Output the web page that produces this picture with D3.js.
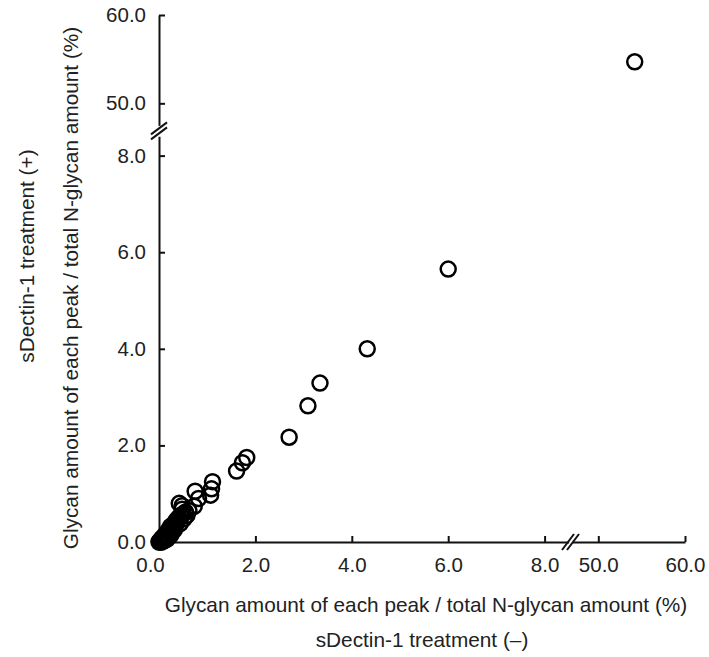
<!DOCTYPE html>
<html>
<head>
<meta charset="utf-8">
<script src="https://cdn.jsdelivr.net/npm/d3@7"></script>
<style>
  body { margin: 0; background: #fff; }
  svg text { font-family: "Liberation Sans", Arial, sans-serif; fill: #222; }
</style>
</head>
<body>
<div class="chart"></div>
<script>
// data: sDectin-1 (-) vs sDectin-1 (+), % of total N-glycan
const untreated = [54.2, 6.0, 4.32, 3.34, 3.09, 2.70, 1.82, 1.73, 1.61, 1.11, 1.09, 1.07,
  0.75, 0.82, 0.73, 0.62, 0.55, 0.48, 0.45, 0.52, 0.40, 0.38, 0.44, 0.35, 0.30, 0.32,
  0.27, 0.25, 0.22, 0.20, 0.18, 0.15, 0.14, 0.12, 0.10, 0.09, 0.08, 0.06, 0.05, 0.04,
  0.03, 0.02, 0.01, 0.12, 0.08, 0.16, 0.20, 0.25, 0.42, 0.48,
  0.58, 0.50, 0.36, 0.33, 0.29, 0.24, 0.19, 0.13, 0.07, 0.03, 0.00, 0.05, 0.11, 0.17];
const treated = [54.7, 5.65, 4.0, 3.29, 2.82, 2.17, 1.75, 1.64, 1.47, 1.25, 1.10, 0.97,
  1.05, 0.90, 0.74, 0.65, 0.62, 0.68, 0.55, 0.48, 0.50, 0.42, 0.38, 0.35, 0.30, 0.25,
  0.22, 0.28, 0.18, 0.20, 0.15, 0.12, 0.17, 0.10, 0.08, 0.11, 0.06, 0.05, 0.07, 0.03,
  0.02, 0.02, 0.01, 0.05, 0.02, 0.08, 0.10, 0.15, 0.80, 0.75,
  0.55, 0.58, 0.45, 0.40, 0.36, 0.32, 0.24, 0.14, 0.04, 0.00, 0.00, 0.00, 0.03, 0.06];
const lowTicks = [0, 2, 4, 6, 8];
const highTicks = [50, 60];
const xTitle = "Glycan amount of each peak / total N-glycan amount (%)";
const xSub = "sDectin-1 treatment (–)";
const yTitle = "Glycan amount of each peak / total N-glycan amount (%)";
const ySub = "sDectin-1 treatment (+)";

const width = 709, height = 657;
const fmt = d3.format(".1f");

const svg = d3.select(".chart").append("svg")
    .attr("width", width)
    .attr("height", height);

// broken scales: low segment and high segment
const xLow = d3.scaleLinear().domain([0, 8.5]).range([159, 568.7]);
const xHigh = d3.scaleLinear().domain([47, 60]).range([572.3, 685]);
const yLow = d3.scaleLinear().domain([0, 8.4]).range([542, 136.3]);
const yHigh = d3.scaleLinear().domain([47.5, 60]).range([125.4, 15]);

const xPos = v => v > 20 ? xHigh(v) : xLow(v);
const yPos = v => v > 20 ? yHigh(v) : yLow(v);

const axisY0 = 542, axisX0 = 159;

function styleAxis(g) {
  g.select(".domain").attr("stroke", "#111").attr("stroke-width", 2);
  g.selectAll(".tick line").attr("stroke", "#111").attr("stroke-width", 2);
  g.selectAll(".tick text").style("font-size", "20.5px").attr("fill", "#222");
}

// x axis pieces
const gxLow = svg.append("g").attr("transform", `translate(0,${axisY0})`)
    .call(d3.axisBottom(xLow).tickValues(lowTicks).tickFormat(fmt).tickSizeInner(-6).tickSizeOuter(0).tickPadding(15))
    .call(styleAxis);
// the 0.0 label sits a little left of its tick
gxLow.selectAll(".tick text").filter(d => d === 0).attr("dx", -9);
svg.append("g").attr("transform", `translate(0,${axisY0})`)
    .call(d3.axisBottom(xHigh).tickValues(highTicks).tickFormat(fmt).tickSizeInner(-6).tickSizeOuter(0).tickPadding(15))
    .call(styleAxis);

// y axis pieces
svg.append("g").attr("transform", `translate(${axisX0},0)`)
    .call(d3.axisLeft(yLow).tickValues(lowTicks).tickFormat(fmt).tickSizeInner(-6).tickSizeOuter(0).tickPadding(13))
    .call(styleAxis);
svg.append("g").attr("transform", `translate(${axisX0},0)`)
    .call(d3.axisLeft(yHigh).tickValues(highTicks).tickFormat(fmt).tickSizeInner(-6).tickSizeOuter(0).tickPadding(13))
    .call(styleAxis);

// break marks
const bx = (xLow.range()[1] + xHigh.range()[0]) / 2;
const by = (yLow.range()[1] + yHigh.range()[0]) / 2;
[-2.5, 2.5].forEach(off => {
  svg.append("line")
      .attr("x1", bx + off - 6).attr("y1", axisY0 + 8)
      .attr("x2", bx + off + 6).attr("y2", axisY0 - 8)
      .attr("stroke", "#111").attr("stroke-width", 2);
  svg.append("line")
      .attr("x1", axisX0 - 8).attr("y1", by + off + 6)
      .attr("x2", axisX0 + 8).attr("y2", by + off - 6)
      .attr("stroke", "#111").attr("stroke-width", 2);
});

// points
svg.append("g").selectAll("circle")
    .data(untreated.map((d, i) => [d, treated[i]]))
    .join("circle")
    .attr("cx", d => xPos(d[0]))
    .attr("cy", d => yPos(d[1]))
    .attr("r", 7.5)
    .attr("fill", "none")
    .attr("stroke", "#000")
    .attr("stroke-width", 2.5);

// axis titles
svg.append("text")
    .attr("x", 426).attr("y", 612)
    .attr("text-anchor", "middle")
    .style("font-size", "20.8px")
    .text(xTitle);
svg.append("text")
    .attr("x", 422).attr("y", 647)
    .attr("text-anchor", "middle")
    .style("font-size", "20.8px")
    .text(xSub);
svg.append("text")
    .attr("transform", "translate(78,288) rotate(-90)")
    .attr("text-anchor", "middle")
    .style("font-size", "20.8px")
    .text(yTitle);
svg.append("text")
    .attr("transform", "translate(34,256) rotate(-90)")
    .attr("text-anchor", "middle")
    .style("font-size", "20.8px")
    .text(ySub);
</script>
</body>
</html>
